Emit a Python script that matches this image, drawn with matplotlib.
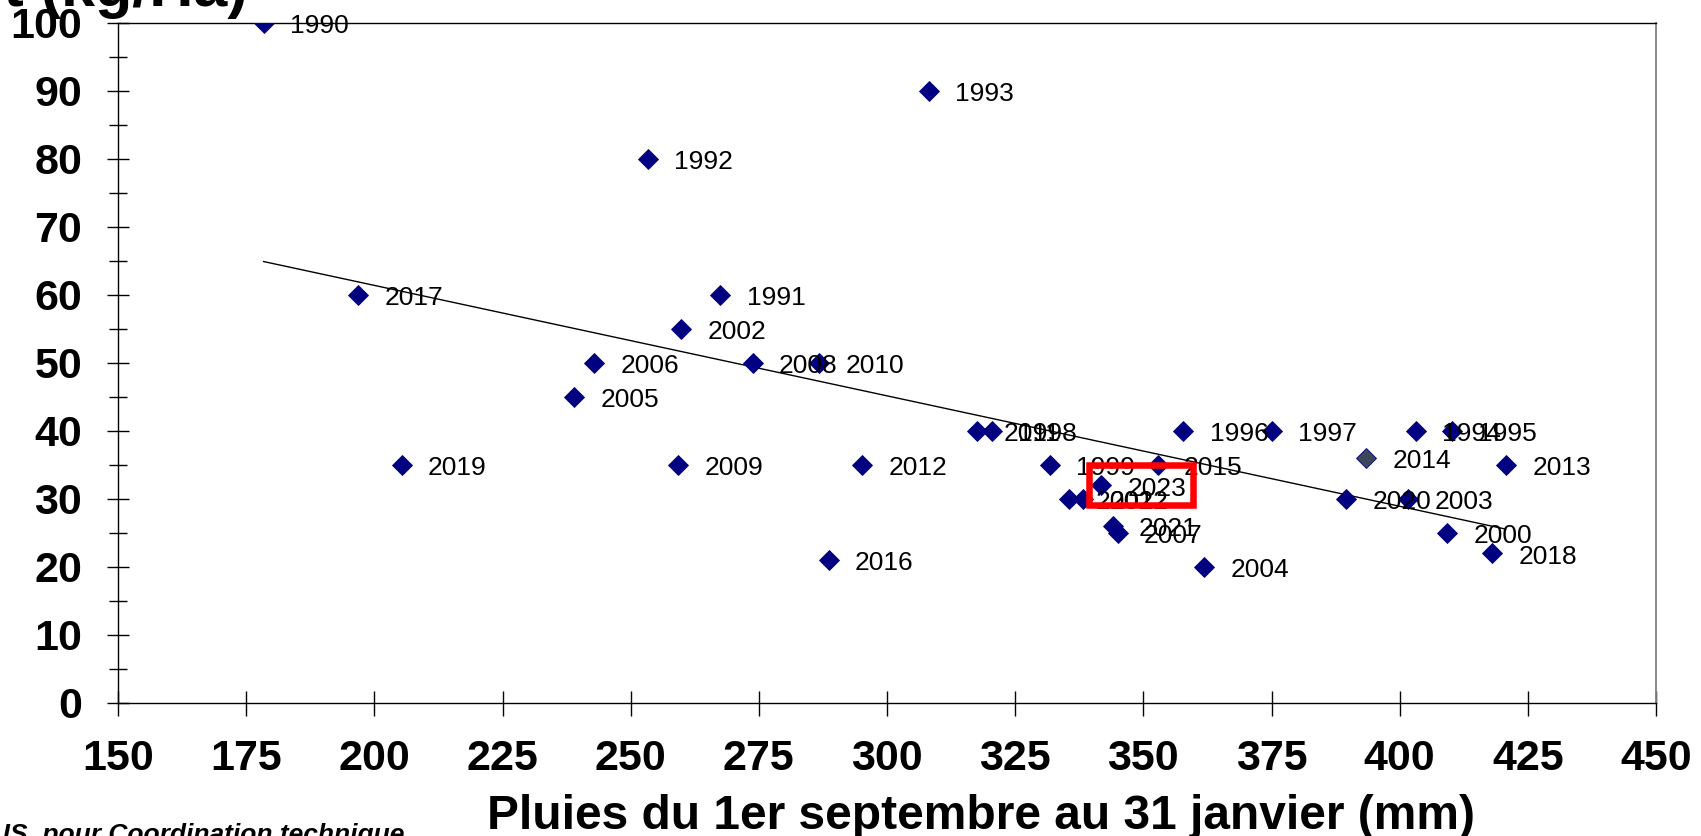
import numpy as np
import matplotlib
matplotlib.use("Agg")
from matplotlib import pyplot as plt
from matplotlib.patches import Rectangle

plt.rcParams['font.family'] = ['Liberation Sans', 'DejaVu Sans']

# rain (mm) vs value, one point per year
years = ['1990', '1993', '1992', '2017', '1991', '2002', '2006', '2008', '2010', '2005',
         '2019', '2009', '2012', '2016', '2011', '1998', '1999', '2015', '2023', '2001',
         '2022', '2021', '2007', '2004', '1996', '1997', '1994', '1995', '2014', '2013',
         '2020', '2003', '2000', '2018']
rain = [178.4, 308.1, 253.3, 196.8, 267.5, 259.9, 242.9, 273.8, 286.7, 238.9,
        205.3, 259.2, 295.2, 288.6, 317.6, 320.4, 331.8, 352.8, 341.7, 335.5,
        338.2, 344.0, 345.0, 361.9, 357.8, 375.1, 403.1, 410.2, 393.4, 420.7,
        389.6, 401.7, 409.3, 418.0]
value = [100, 90, 80, 60, 60, 55, 50, 50, 50, 45,
         35, 35, 35, 21, 40, 40, 35, 35, 32, 30,
         30, 26, 25, 20, 40, 40, 40, 40, 36, 35,
         30, 30, 25, 22]

xticks = list(range(150, 451, 25))
yticks = list(range(0, 101, 10))

fig = plt.figure(figsize=(17.01, 8.36), dpi=100)
ax = fig.add_axes([118/1701, 1-702.7/836, (1656-118)/1701, (702.7-22.7)/836])

# trend line over the data range
coef = np.polyfit(rain, value, 1)
tx = np.array([min(rain), max(rain)])
ax.plot(tx, np.polyval(coef, tx), color='black', lw=1.0, zorder=2)

for yr, x, y in zip(years, rain, value):
    fc = '#3b4658' if yr == '2014' else '#000080'
    ax.plot(x, y, marker='D', ms=10, mfc=fc, mec='#000080', mew=0.6, ls='none', zorder=3)
    ax.annotate(yr, (x, y), xytext=(19, -2.5), textcoords='offset points',
                ha='left', va='center', fontsize=19, zorder=4)

# red box around 2023
ax.add_patch(Rectangle((339.4, 29.1), 20.2, 5.8, fill=False, ec='#ff0000', lw=4.7, zorder=5))

ax.set_xlim(150, 450)
ax.set_ylim(0, 100)
ax.set_xticks(xticks)
ax.set_yticks(yticks)
ax.set_yticks(range(5, 100, 10), minor=True)
ax.tick_params(axis='x', direction='inout', length=18, width=1.0, pad=17, labelsize=31)
ax.tick_params(axis='y', which='major', direction='inout', length=16.5, width=1.0, pad=17.5, labelsize=31)
ax.tick_params(axis='y', which='minor', direction='inout', length=13.5, width=1.0)
for lab in ax.get_xticklabels() + ax.get_yticklabels():
    lab.set_fontweight('bold')
for s in ['left', 'bottom', 'top']:
    ax.spines[s].set_linewidth(1.0)
    ax.spines[s].set_color('black')
ax.spines['right'].set_color('#808080')
ax.spines['right'].set_linewidth(1.3)

fig.text(981/1701, 1-829/836, 'Pluies du 1er septembre au 31 janvier (mm)',
         ha='center', va='baseline', fontsize=34.5, fontweight='bold')
fig.text(248/1701, 1-6/836, 'Rendement (kg/Ha)', ha='right', va='baseline',
         fontsize=44, fontweight='bold')
fig.text(404/1701, -6/836, 'Source : ARVALIS, pour Coordination technique', ha='right',
         va='baseline', fontsize=19, fontweight='bold', style='italic')

fig.savefig('out.png', dpi=100)
